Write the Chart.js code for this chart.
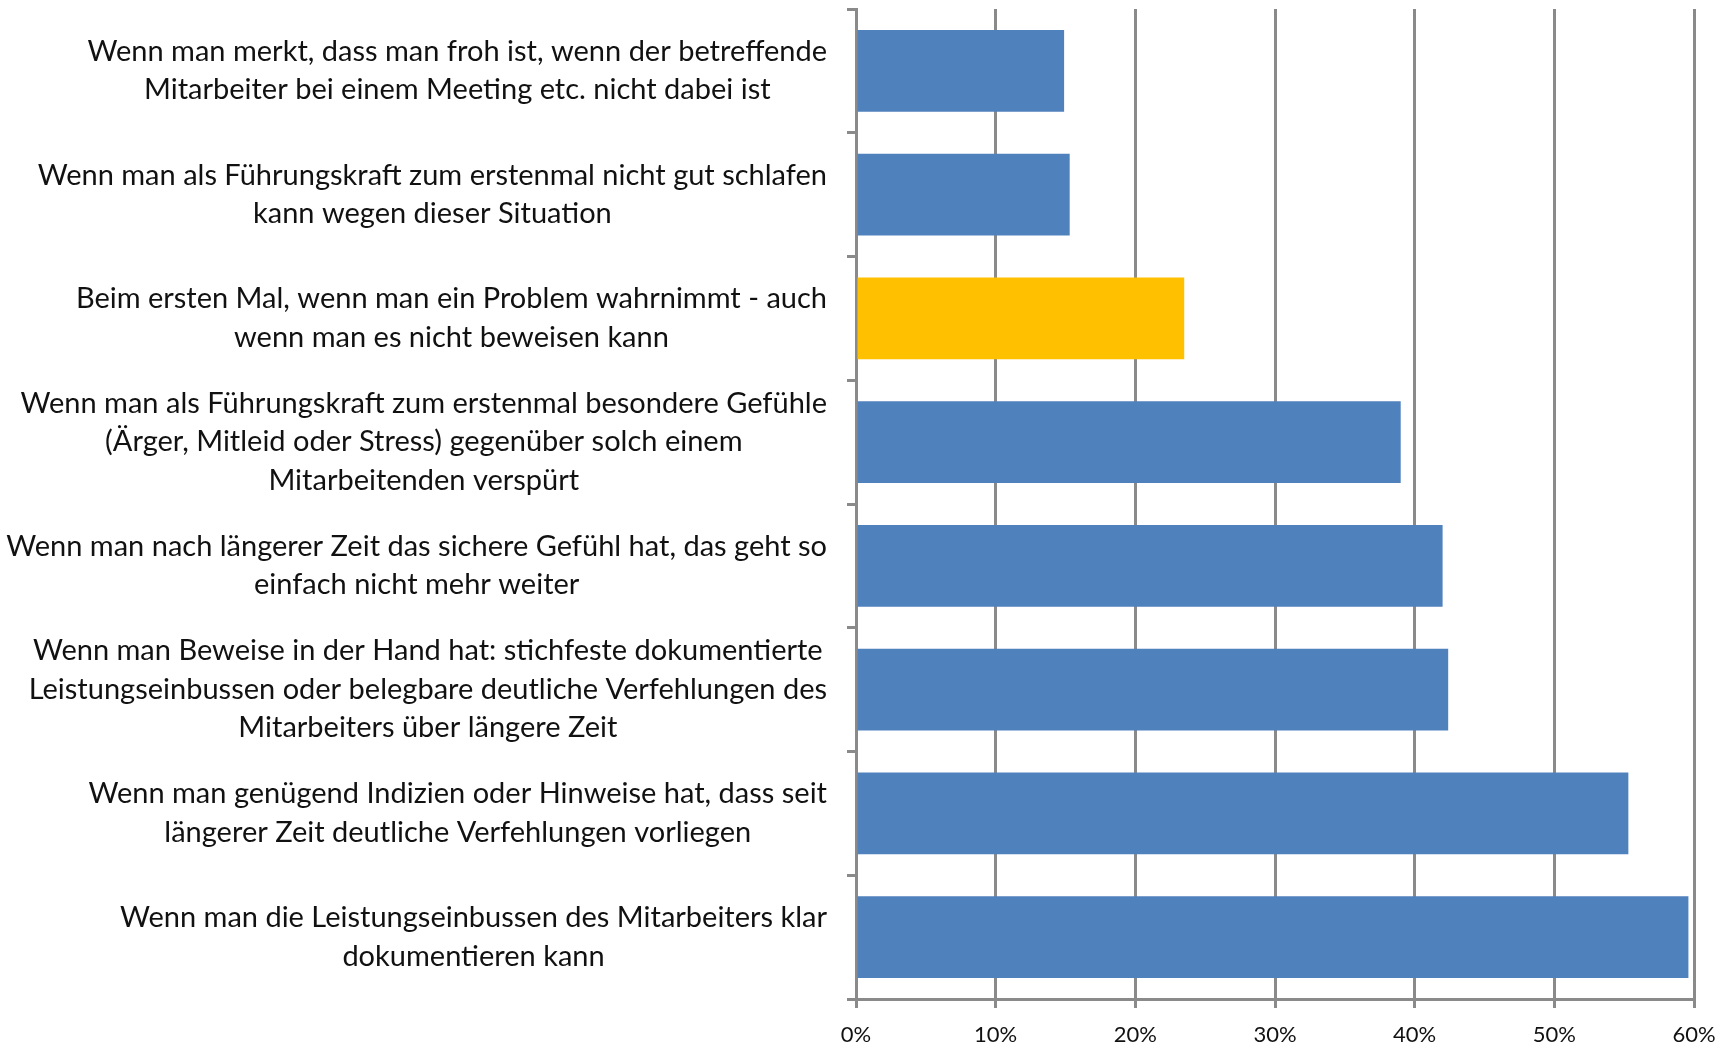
<!DOCTYPE html>
<html>
<head>
<meta charset="utf-8">
<script src="https://cdn.jsdelivr.net/npm/chart.js@4.4.1/dist/chart.umd.min.js"></script>
<style>
  html, body { margin: 0; padding: 0; background: #fff; }
  #wrap { width: 1733px; height: 1044px; }
</style>
</head>
<body>
<div id="wrap"><canvas id="barChart" width="1733" height="1044"></canvas></div>
<script>
const categories = [
  ["Wenn man merkt, dass man froh ist, wenn der betreffende", "Mitarbeiter bei einem Meeting etc. nicht dabei ist"],
  ["Wenn man als Führungskraft zum erstenmal nicht gut schlafen", "kann wegen dieser Situation"],
  ["Beim ersten Mal, wenn man ein Problem wahrnimmt - auch", "wenn man es nicht beweisen kann"],
  ["Wenn man als Führungskraft zum erstenmal besondere Gefühle", "(Ärger, Mitleid oder Stress) gegenüber solch einem", "Mitarbeitenden verspürt"],
  ["Wenn man nach längerer Zeit das sichere Gefühl hat, das geht so", "einfach nicht mehr weiter"],
  ["Wenn man Beweise in der Hand hat: stichfeste dokumentierte", "Leistungseinbussen oder belegbare deutliche Verfehlungen des", "Mitarbeiters über längere Zeit"],
  ["Wenn man genügend Indizien oder Hinweise hat, dass seit", "längerer Zeit deutliche Verfehlungen vorliegen"],
  ["Wenn man die Leistungseinbussen des Mitarbeiters klar", "dokumentieren kann"]
];
const values = [14.9, 15.3, 23.5, 39.0, 42.0, 42.4, 55.3, 59.6];
const highlighted = [false, false, true, false, false, false, false, false];
const xTicks = [0, 10, 20, 30, 40, 50, 60];

const blue = "#4F81BD";
const yellow = "#FFC000";
const gridGray = "#8A8A8A";
const labelFont = "29px Lato";
const lineHeight = 38.5;

// draws the category labels: block right aligned, lines centered in the block
const labelPlugin = {
  id: "blockLabels",
  afterDraw(chart) {
    const scale = chart.scales.y;
    const ctx = chart.ctx;
    ctx.save();
    ctx.font = labelFont;
    ctx.fillStyle = "#111";
    ctx.textAlign = "center";
    ctx.textBaseline = "middle";
    const right = scale.right - 29;
    categories.forEach((lines, i) => {
      const y = scale.getPixelForTick(i);
      const w = Math.max(...lines.map((l) => ctx.measureText(l).width));
      const cx = right - w / 2;
      lines.forEach((l, j) => {
        ctx.fillText(l, cx, y + (j - (lines.length - 1) / 2) * lineHeight);
      });
    });
    ctx.restore();
  }
};

const ctx = document.getElementById("barChart").getContext("2d");
new Chart(ctx, {
  type: "bar",
  data: {
    labels: categories,
    datasets: [{
      data: values,
      backgroundColor: highlighted.map((h) => (h ? yellow : blue)),
      borderWidth: 0,
      categoryPercentage: 1,
      barPercentage: 0.66
    }]
  },
  options: {
    indexAxis: "y",
    responsive: false,
    animation: false,
    layout: { padding: { top: 9, right: 39, left: 0, bottom: 0 } },
    plugins: { legend: { display: false }, tooltip: { enabled: false } },
    scales: {
      x: {
        min: 0,
        max: 60,
        afterBuildTicks: (scale) => { scale.ticks = xTicks.map((v) => ({ value: v })); },
        afterFit: (scale) => { scale.height = 45; },
        ticks: {
          callback: (v) => v + "%",
          font: { family: "Lato", size: 22 },
          color: "#111",
          padding: 14,
          maxRotation: 0
        },
        grid: { color: gridGray, lineWidth: 3, tickLength: 9 },
        border: { color: gridGray, width: 3 }
      },
      y: {
        afterFit: (scale) => { scale.width = 856; },
        ticks: { display: false },
        grid: { color: gridGray, lineWidth: 3, tickLength: 9, drawOnChartArea: false, offset: true },
        border: { color: gridGray, width: 3 }
      }
    }
  },
  plugins: [labelPlugin]
});
</script>
</body>
</html>
